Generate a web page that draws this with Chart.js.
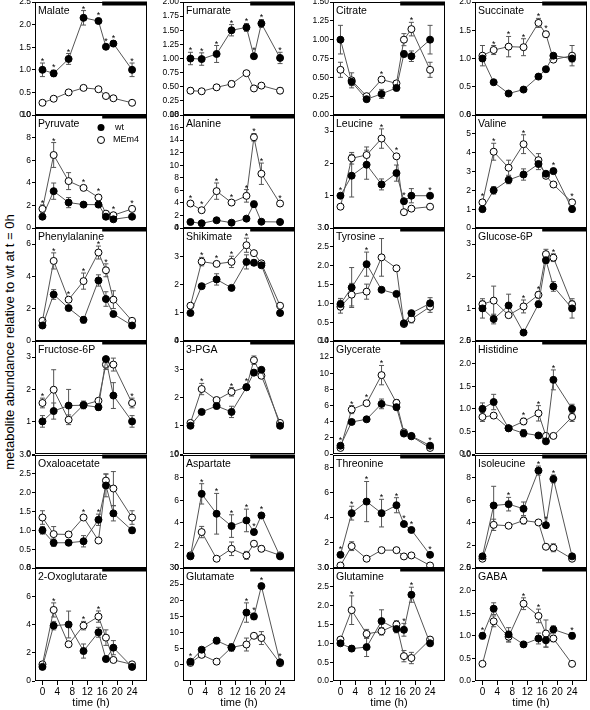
<!DOCTYPE html>
<html>
<head>
<meta charset="utf-8">
<script src="https://cdn.jsdelivr.net/npm/chart.js@4.4.1/dist/chart.umd.min.js"></script>
<style>
  html, body { margin: 0; padding: 0; background: #fff; }
  #wrap { position: relative; width: 590px; height: 710px; overflow: hidden; }
  #wrap canvas { position: absolute; }
  #ylab {
    position: absolute; left: 9px; top: 342px;
    transform: translate(-50%, -50%) rotate(-90deg);
    white-space: nowrap; font: 13px "Liberation Sans", Arial, sans-serif; color: #000;
  }
</style>
</head>
<body>
<div id="wrap"><div id="ylab">metabolite abundance relative to wt at t = 0h</div></div>
<script>
// sampling times (h) and shared x ticks
const hours = [0, 3, 7, 11, 15, 17, 19, 24];
const xTicks = [0, 4, 8, 12, 16, 20, 24];
const darkStart = 16;

// --- Row 1 ---
const malateWt = [1.00, 0.92, 1.24, 2.15, 2.08, 1.51, 1.58, 1.00];
const malateWtErr = [0.15, 0.07, 0.12, 0.16, 0.05, 0.03, 0.06, 0.15];
const malateMe = [0.27, 0.36, 0.50, 0.60, 0.57, 0.42, 0.37, 0.27];
const malateMeErr = [0.03, 0.03, 0.03, 0.03, 0.03, 0.02, 0.02, 0.03];
const malateStars = [0, 3, 7, 11, 15, 17, 19, 24];
const malateTicks = [0, 0.5, 1, 1.5, 2, 2.5];

const fumarateWt = [1.00, 0.99, 1.08, 1.50, 1.55, 1.04, 1.62, 1.01];
const fumarateWtErr = [0.11, 0.11, 0.15, 0.10, 0.07, 0.02, 0.07, 0.10];
const fumarateMe = [0.43, 0.42, 0.49, 0.55, 0.74, 0.47, 0.52, 0.43];
const fumarateMeErr = [0.05, 0.02, 0.04, 0.05, 0.03, 0.02, 0.02, 0.05];
const fumarateStars = [0, 3, 7, 11, 15, 17, 19, 24];
const fumarateTicks = [0, 0.25, 0.5, 0.75, 1, 1.25, 1.5, 1.75, 2];

const citrateWt = [1.00, 0.44, 0.21, 0.28, 0.36, 0.81, 0.78, 1.00];
const citrateWtErr = [0.19, 0.05, 0.02, 0.06, 0.04, 0.04, 0.07, 0.19];
const citrateMe = [0.60, 0.46, 0.25, 0.47, 0.42, 1.00, 1.14, 0.60];
const citrateMeErr = [0.10, 0.10, 0.02, 0.02, 0.03, 0.08, 0.09, 0.10];
const citrateStars = [11, 19];
const citrateTicks = [0, 0.25, 0.5, 0.75, 1, 1.25, 1.5];

const succinateWt = [1.00, 0.58, 0.38, 0.45, 0.68, 0.81, 1.05, 1.00];
const succinateWtErr = [0.05, 0.02, 0.02, 0.03, 0.03, 0.03, 0.03, 0.06];
const succinateMe = [1.05, 1.15, 1.21, 1.20, 1.63, 1.43, 0.98, 1.05];
const succinateMeErr = [0.18, 0.08, 0.18, 0.15, 0.08, 0.05, 0.03, 0.18];
const succinateStars = [3, 7, 11, 15, 17];
const succinateTicks = [0, 0.5, 1, 1.5, 2];

// --- Row 2 ---
const pyruvateWt = [1.00, 3.26, 2.25, 2.07, 2.07, 1.00, 0.77, 1.00];
const pyruvateWtErr = [0.05, 0.72, 0.45, 0.10, 0.20, 0.10, 0.05, 0.05];
const pyruvateMe = [1.69, 6.46, 4.15, 3.55, 2.70, 1.27, 1.13, 1.69];
const pyruvateMeErr = [0.35, 1.10, 0.75, 0.20, 0.20, 0.15, 0.10, 0.20];
const pyruvateStars = [0, 3, 11, 15, 19, 24];
const pyruvateTicks = [0, 2, 4, 6, 8, 10];

const alanineWt = [0.96, 0.75, 1.23, 0.85, 1.49, 3.79, 1.00, 0.96];
const alanineWtErr = [0.10, 0.10, 0.15, 0.10, 0.20, 0.50, 0.10, 0.10];
const alanineMe = [3.90, 2.83, 5.87, 4.05, 5.12, 14.45, 8.64, 3.90];
const alanineMeErr = [0.40, 0.30, 1.30, 0.40, 1.00, 0.60, 1.70, 0.30];
const alanineStars = [0, 3, 7, 11, 15, 17, 19, 24];
const alanineTicks = [0, 2, 4, 6, 8, 10, 12, 14, 16, 18];

const leucineWt = [1.00, 1.62, 1.96, 1.35, 1.70, 0.83, 1.00, 1.00];
const leucineWtErr = [0.05, 0.66, 0.45, 0.17, 0.25, 0.05, 0.22, 0.03];
const leucineMe = [0.66, 2.16, 2.26, 2.77, 2.22, 0.49, 0.60, 0.66];
const leucineMeErr = [0.05, 0.18, 0.25, 0.30, 0.05, 0.03, 0.06, 0.03];
const leucineStars = [0, 11, 15, 17, 24];
const leucineTicks = [0, 1, 2, 3];

const valineWt = [1.00, 2.00, 2.55, 2.84, 3.40, 2.88, 3.02, 1.00];
const valineWtErr = [0.05, 0.20, 0.20, 0.30, 0.30, 0.10, 0.15, 0.05];
const valineMe = [1.36, 4.05, 3.20, 4.45, 3.60, 2.77, 2.31, 1.36];
const valineMeErr = [0.10, 0.45, 0.40, 0.50, 0.35, 0.10, 0.10, 0.10];
const valineStars = [0, 3, 11, 19, 24];
const valineTicks = [0, 1, 2, 3, 4, 5, 6];

// --- Row 3 ---
const pheWt = [0.96, 2.88, 2.04, 1.31, 3.75, 2.60, 1.67, 0.96];
const pheWtErr = [0.05, 0.30, 0.05, 0.20, 0.35, 0.45, 0.10, 0.05];
const pheMe = [1.25, 4.96, 2.56, 3.71, 5.48, 4.38, 2.56, 1.25];
const pheMeErr = [0.15, 0.50, 0.10, 0.50, 0.40, 0.40, 0.55, 0.10];
const pheStars = [3, 7, 11, 15, 17];
const pheTicks = [0, 2, 4, 6];

const shikimateWt = [0.99, 1.94, 2.18, 1.88, 2.80, 2.77, 2.68, 0.99];
const shikimateWtErr = [0.07, 0.08, 0.20, 0.05, 0.25, 0.10, 0.05, 0.07];
const shikimateMe = [1.25, 2.81, 2.73, 2.80, 3.39, 3.11, 2.75, 1.25];
const shikimateMeErr = [0.05, 0.15, 0.05, 0.20, 0.25, 0.08, 0.05, 0.05];
const shikimateStars = [3, 7, 11, 15];
const shikimateTicks = [0, 1, 2, 3, 4];

const tyrosineWt = [0.98, 1.42, 2.04, 1.36, 1.25, 0.47, 0.74, 1.00];
const tyrosineWtErr = [0.15, 0.53, 0.32, 0.03, 0.03, 0.05, 0.05, 0.15];
const tyrosineMe = [0.91, 1.23, 1.31, 2.22, 1.93, 0.45, 0.58, 0.91];
const tyrosineMeErr = [0.17, 0.30, 0.20, 0.50, 0.05, 0.05, 0.10, 0.15];
const tyrosineStars = [7];
const tyrosineTicks = [0, 0.5, 1, 1.5, 2, 2.5, 3];

const g6pWt = [1.01, 0.68, 1.10, 0.26, 1.14, 2.50, 1.69, 1.01];
const g6pWtErr = [0.30, 0.15, 0.35, 0.03, 0.10, 0.10, 0.15, 0.30];
const g6pMe = [1.14, 1.25, 0.80, 1.07, 1.43, 2.69, 2.58, 1.14];
const g6pMeErr = [0.10, 0.45, 0.05, 0.20, 0.10, 0.15, 0.12, 0.10];
const g6pStars = [11, 15, 19];
const g6pTicks = [0, 1, 2, 3];

// --- Row 4 ---
const f6pWt = [1.01, 1.33, 1.50, 1.51, 1.45, 2.94, 1.81, 1.01];
const f6pWtErr = [0.18, 0.25, 0.50, 0.05, 0.10, 0.05, 0.40, 0.18];
const f6pMe = [1.58, 1.99, 1.06, 1.52, 1.65, 2.77, 2.77, 1.58];
const f6pMeErr = [0.15, 0.62, 0.15, 0.12, 0.05, 0.15, 0.20, 0.15];
const f6pStars = [0, 24];
const f6pTicks = [0, 1, 2, 3];

const pgaWt = [1.00, 1.49, 1.70, 1.49, 2.36, 2.88, 2.98, 1.00];
const pgaWtErr = [0.03, 0.03, 0.10, 0.20, 0.05, 0.10, 0.05, 0.03];
const pgaMe = [1.10, 2.30, 1.91, 2.20, 2.37, 3.32, 2.77, 1.10];
const pgaMeErr = [0.05, 0.20, 0.05, 0.15, 0.05, 0.15, 0.05, 0.05];
const pgaStars = [3, 11, 15];
const pgaTicks = [0, 1, 2, 3, 4];

const glycerateWt = [1.03, 3.97, 4.30, 6.21, 5.80, 2.53, 2.24, 1.03];
const glycerateWtErr = [0.10, 0.20, 0.20, 0.60, 0.30, 0.10, 0.10, 0.10];
const glycerateMe = [0.75, 5.50, 6.29, 9.77, 6.34, 2.69, 2.19, 0.75];
const glycerateMeErr = [0.10, 0.50, 0.20, 1.20, 0.40, 0.10, 0.10, 0.10];
const glycerateStars = [0, 3, 7, 11, 24];
const glycerateTicks = [0, 2, 4, 6, 8, 10, 12, 14];

const histidineWt = [1.00, 1.15, 0.57, 0.46, 0.41, 0.28, 1.64, 1.00];
const histidineWtErr = [0.13, 0.17, 0.03, 0.08, 0.03, 0.02, 0.22, 0.10];
const histidineMe = [0.82, 0.85, 0.57, 0.72, 0.90, 0.40, 0.40, 0.82];
const histidineMeErr = [0.10, 0.05, 0.03, 0.07, 0.17, 0.05, 0.03, 0.10];
const histidineStars = [11, 15, 19];
const histidineTicks = [0, 0.5, 1, 1.5, 2, 2.5];

// --- Row 5 ---
const oaaWt = [1.00, 0.67, 0.67, 0.71, 1.28, 2.19, 1.45, 1.00];
const oaaWtErr = [0.10, 0.10, 0.07, 0.15, 0.15, 0.30, 0.20, 0.08];
const oaaMe = [1.34, 0.90, 0.89, 1.34, 0.73, 2.32, 2.11, 1.34];
const oaaMeErr = [0.18, 0.20, 0.06, 0.03, 0.03, 0.18, 0.45, 0.18];
const oaaStars = [11, 15];
const oaaTicks = [0, 0.5, 1, 1.5, 2, 2.5, 3];

const aspartateWt = [1.03, 6.56, 4.80, 3.71, 4.21, 3.18, 4.65, 1.03];
const aspartateWtErr = [0.10, 0.90, 1.80, 1.00, 1.00, 0.20, 0.20, 0.10];
const aspartateMe = [1.12, 3.18, 0.82, 1.70, 1.12, 2.15, 1.70, 1.12];
const aspartateMeErr = [0.20, 0.50, 0.10, 0.60, 0.35, 0.10, 0.25, 0.20];
const aspartateStars = [3, 7, 11, 15, 17, 19];
const aspartateTicks = [0, 2, 4, 6, 8, 10];

const threonineWt = [1.05, 4.37, 5.29, 4.37, 5.00, 3.50, 3.03, 1.05];
const threonineWtErr = [0.05, 0.55, 1.60, 1.10, 0.60, 0.10, 0.10, 0.05];
const threonineMe = [0.20, 1.74, 0.74, 1.42, 1.42, 0.92, 1.00, 0.20];
const threonineMeErr = [0.05, 0.35, 0.05, 0.10, 0.15, 0.05, 0.05, 0.05];
const threonineStars = [0, 3, 7, 11, 15, 17, 19, 24];
const threonineTicks = [0, 2, 4, 6, 8];

const isoleucineWt = [1.03, 5.53, 5.65, 5.24, 8.62, 3.79, 7.88, 1.03];
const isoleucineWtErr = [0.10, 1.70, 0.60, 0.60, 0.40, 0.10, 0.35, 0.10];
const isoleucineMe = [0.82, 3.82, 3.74, 4.20, 4.03, 1.88, 1.79, 0.82];
const isoleucineMeErr = [0.05, 0.50, 0.10, 0.30, 0.10, 0.10, 0.35, 0.05];
const isoleucineStars = [7, 15, 17, 19];
const isoleucineTicks = [0, 2, 4, 6, 8, 10];

// --- Row 6 ---
const oxoWt = [1.00, 3.92, 4.00, 2.12, 3.45, 1.56, 2.36, 1.00];
const oxoWtErr = [0.05, 0.30, 0.95, 0.50, 0.35, 0.20, 0.50, 0.05];
const oxoMe = [1.18, 5.03, 2.60, 3.92, 4.56, 3.07, 1.49, 1.18];
const oxoMeErr = [0.05, 0.50, 0.10, 0.30, 0.40, 0.55, 0.10, 0.05];
const oxoStars = [3, 11, 15];
const oxoTicks = [0, 2, 4, 6, 8];

const glutamateWt = [1.0, 4.7, 7.5, 5.4, 16.2, 15.0, 24.4, 0.8];
const glutamateWtErr = [0.3, 0.5, 1.0, 0.5, 3.0, 1.0, 0.8, 0.3];
const glutamateMe = [0.6, 3.1, 1.0, 5.4, 6.3, 9.0, 8.3, 0.5];
const glutamateMeErr = [0.3, 0.4, 0.2, 1.2, 2.0, 0.3, 2.0, 0.3];
const glutamateStars = [0, 15, 17, 19, 24];
const glutamateTicks = [0, 5, 10, 15, 20, 25, 30];

const glutamineWt = [1.00, 0.86, 0.90, 1.59, 1.38, 1.36, 2.29, 1.00];
const glutamineWtErr = [0.05, 0.07, 0.25, 0.30, 0.10, 0.17, 0.20, 0.03];
const glutamineMe = [1.10, 1.88, 1.25, 1.32, 1.50, 0.66, 0.61, 1.10];
const glutamineMeErr = [0.05, 0.38, 0.12, 0.10, 0.10, 0.15, 0.15, 0.05];
const glutamineStars = [3, 17, 19];
const glutamineTicks = [0, 0.5, 1, 1.5, 2, 2.5, 3];

const gabaWt = [1.00, 1.60, 1.03, 0.81, 0.94, 0.90, 1.14, 1.00];
const gabaWtErr = [0.07, 0.13, 0.15, 0.03, 0.12, 0.15, 0.08, 0.07];
const gabaMe = [0.38, 1.32, 0.98, 1.71, 1.44, 1.05, 0.94, 0.38];
const gabaMeErr = [0.02, 0.12, 0.12, 0.13, 0.15, 0.30, 0.07, 0.02];
const gabaStars = [0, 11, 15, 24];
const gabaTicks = [0, 0.5, 1, 1.5, 2, 2.5];

// panel table, row-major (4 columns x 6 rows)
const panels = [
  { title: 'Malate', wt: malateWt, wtErr: malateWtErr, me: malateMe, meErr: malateMeErr, stars: malateStars, ticks: malateTicks, min: 0, max: 2.5, dec: 1 },
  { title: 'Fumarate', wt: fumarateWt, wtErr: fumarateWtErr, me: fumarateMe, meErr: fumarateMeErr, stars: fumarateStars, ticks: fumarateTicks, min: 0, max: 2, dec: 2 },
  { title: 'Citrate', wt: citrateWt, wtErr: citrateWtErr, me: citrateMe, meErr: citrateMeErr, stars: citrateStars, ticks: citrateTicks, min: 0, max: 1.5, dec: 2 },
  { title: 'Succinate', wt: succinateWt, wtErr: succinateWtErr, me: succinateMe, meErr: succinateMeErr, stars: succinateStars, ticks: succinateTicks, min: 0, max: 2, dec: 1 },
  { title: 'Pyruvate', wt: pyruvateWt, wtErr: pyruvateWtErr, me: pyruvateMe, meErr: pyruvateMeErr, stars: pyruvateStars, ticks: pyruvateTicks, min: 0, max: 10, dec: 0, legend: true },
  { title: 'Alanine', wt: alanineWt, wtErr: alanineWtErr, me: alanineMe, meErr: alanineMeErr, stars: alanineStars, ticks: alanineTicks, min: 0, max: 18, dec: 0 },
  { title: 'Leucine', wt: leucineWt, wtErr: leucineWtErr, me: leucineMe, meErr: leucineMeErr, stars: leucineStars, ticks: leucineTicks, min: 0, max: 3.5, dec: 0 },
  { title: 'Valine', wt: valineWt, wtErr: valineWtErr, me: valineMe, meErr: valineMeErr, stars: valineStars, ticks: valineTicks, min: 0, max: 6, dec: 0 },
  { title: 'Phenylalanine', wt: pheWt, wtErr: pheWtErr, me: pheMe, meErr: pheMeErr, stars: pheStars, ticks: pheTicks, min: 0, max: 7, dec: 0 },
  { title: 'Shikimate', wt: shikimateWt, wtErr: shikimateWtErr, me: shikimateMe, meErr: shikimateMeErr, stars: shikimateStars, ticks: shikimateTicks, min: 0, max: 4, dec: 0 },
  { title: 'Tyrosine', wt: tyrosineWt, wtErr: tyrosineWtErr, me: tyrosineMe, meErr: tyrosineMeErr, stars: tyrosineStars, ticks: tyrosineTicks, min: 0, max: 3, dec: 1 },
  { title: 'Glucose-6P', wt: g6pWt, wtErr: g6pWtErr, me: g6pMe, meErr: g6pMeErr, stars: g6pStars, ticks: g6pTicks, min: 0, max: 3.5, dec: 0 },
  { title: 'Fructose-6P', wt: f6pWt, wtErr: f6pWtErr, me: f6pMe, meErr: f6pMeErr, stars: f6pStars, ticks: f6pTicks, min: 0, max: 3.5, dec: 0 },
  { title: '3-PGA', wt: pgaWt, wtErr: pgaWtErr, me: pgaMe, meErr: pgaMeErr, stars: pgaStars, ticks: pgaTicks, min: 0, max: 4, dec: 0 },
  { title: 'Glycerate', wt: glycerateWt, wtErr: glycerateWtErr, me: glycerateMe, meErr: glycerateMeErr, stars: glycerateStars, ticks: glycerateTicks, min: 0, max: 14, dec: 0 },
  { title: 'Histidine', wt: histidineWt, wtErr: histidineWtErr, me: histidineMe, meErr: histidineMeErr, stars: histidineStars, ticks: histidineTicks, min: 0, max: 2.5, dec: 1 },
  { title: 'Oxaloacetate', wt: oaaWt, wtErr: oaaWtErr, me: oaaMe, meErr: oaaMeErr, stars: oaaStars, ticks: oaaTicks, min: 0, max: 3, dec: 1 },
  { title: 'Aspartate', wt: aspartateWt, wtErr: aspartateWtErr, me: aspartateMe, meErr: aspartateMeErr, stars: aspartateStars, ticks: aspartateTicks, min: 0, max: 10, dec: 0 },
  { title: 'Threonine', wt: threonineWt, wtErr: threonineWtErr, me: threonineMe, meErr: threonineMeErr, stars: threonineStars, ticks: threonineTicks, min: 0, max: 9, dec: 0 },
  { title: 'Isoleucine', wt: isoleucineWt, wtErr: isoleucineWtErr, me: isoleucineMe, meErr: isoleucineMeErr, stars: isoleucineStars, ticks: isoleucineTicks, min: 0, max: 10, dec: 0 },
  { title: '2-Oxoglutarate', wt: oxoWt, wtErr: oxoWtErr, me: oxoMe, meErr: oxoMeErr, stars: oxoStars, ticks: oxoTicks, min: 0, max: 8, dec: 0 },
  { title: 'Glutamate', wt: glutamateWt, wtErr: glutamateWtErr, me: glutamateMe, meErr: glutamateMeErr, stars: glutamateStars, ticks: glutamateTicks, min: -5, max: 30, dec: 0 },
  { title: 'Glutamine', wt: glutamineWt, wtErr: glutamineWtErr, me: glutamineMe, meErr: glutamineMeErr, stars: glutamineStars, ticks: glutamineTicks, min: 0, max: 3, dec: 1 },
  { title: 'GABA', wt: gabaWt, wtErr: gabaWtErr, me: gabaMe, meErr: gabaMeErr, stars: gabaStars, ticks: gabaTicks, min: 0, max: 2.5, dec: 1 },
];

// --- Layout (page pixels of each plot box) ---
const colLefts = [35, 183, 333, 475];
const rowTops = [2, 115, 228, 341, 455, 568];
const BOX_W = 113, BOX_H = 113;
const AXIS_W = 35;      // room for y tick labels
const X_AXIS_H = 29;    // bottom row: x ticks + "time (h)"
const FONT = '"Liberation Sans", Arial, Helvetica, sans-serif';

Chart.defaults.font.family = FONT;
Chart.defaults.color = '#000';

// Error bars, significance stars, frame, dark-period bar, title, legend
const deco = {
  id: 'deco',
  beforeDatasetsDraw(chart, args, o) {
    const { ctx, scales: { x, y } } = chart;
    ctx.save();
    ctx.strokeStyle = '#555';
    ctx.lineWidth = 1;
    for (const [vals, errs] of [[o.wt, o.wtErr], [o.me, o.meErr]]) {
      vals.forEach((v, i) => {
        const px = x.getPixelForValue(hours[i]);
        const hi = y.getPixelForValue(v + errs[i]);
        const lo = y.getPixelForValue(v - errs[i]);
        ctx.beginPath();
        ctx.moveTo(px, hi); ctx.lineTo(px, lo);
        ctx.moveTo(px - 2.5, hi); ctx.lineTo(px + 2.5, hi);
        ctx.moveTo(px - 2.5, lo); ctx.lineTo(px + 2.5, lo);
        ctx.stroke();
      });
    }
    ctx.restore();
  },
  afterDatasetsDraw(chart, args, o) {
    const { ctx, scales: { x, y } } = chart;
    ctx.save();
    ctx.fillStyle = '#000';
    ctx.font = '9px ' + FONT;
    ctx.textAlign = 'center';
    ctx.textBaseline = 'alphabetic';
    o.stars.forEach(h => {
      const i = hours.indexOf(h);
      const top = Math.max(o.wt[i] + o.wtErr[i], o.me[i] + o.meErr[i]);
      const ptTop = Math.min(y.getPixelForValue(o.wt[i]), y.getPixelForValue(o.me[i])) - 4;
      const py = Math.min(y.getPixelForValue(top), ptTop);
      ctx.fillText('*', x.getPixelForValue(h), py + 1);
    });
    ctx.restore();
  },
  afterDraw(chart, args, o) {
    const { ctx, chartArea: a, scales: { x } } = chart;
    ctx.save();
    ctx.strokeStyle = '#000';
    ctx.lineWidth = 1;
    ctx.strokeRect(a.left + 0.5, a.top + 0.5, a.width - 1, a.height - 1);

    // dark period bar
    const xd = x.getPixelForValue(darkStart);
    ctx.fillStyle = '#000';
    ctx.fillRect(xd, a.top - 0.5, a.right - xd, 4);

    ctx.font = '10.5px ' + FONT;
    ctx.textAlign = 'left';
    ctx.textBaseline = 'alphabetic';
    ctx.fillText(o.title, a.left + 3, a.top + 12);

    if (o.legend) {
      const lx = a.left + 66;
      ctx.font = '9px ' + FONT;
      ctx.textBaseline = 'middle';
      ctx.beginPath();
      ctx.arc(lx, a.top + 12.5, 3.5, 0, Math.PI * 2);
      ctx.fill();
      ctx.fillText('wt', lx + 14, a.top + 12.5);
      ctx.beginPath();
      ctx.arc(lx, a.top + 25, 3.5, 0, Math.PI * 2);
      ctx.fillStyle = '#fff';
      ctx.fill();
      ctx.stroke();
      ctx.fillStyle = '#000';
      ctx.fillText('MEm4', lx + 12, a.top + 25);
    }
    ctx.restore();
  }
};

const wrap = document.getElementById('wrap');

function makePanel(p, idx) {
  const col = idx % 4;
  const row = Math.floor(idx / 4);
  const lastRow = row === rowTops.length - 1;
  const cw = AXIS_W + BOX_W + 4;
  const ch = 8 + BOX_H + (lastRow ? X_AXIS_H : 8);

  const canvas = document.createElement('canvas');
  canvas.width = cw;
  canvas.height = ch;
  canvas.style.left = (colLefts[col] - AXIS_W) + 'px';
  canvas.style.top = (rowTops[row] - 8) + 'px';
  canvas.style.width = cw + 'px';
  canvas.style.height = ch + 'px';
  wrap.appendChild(canvas);

  const series = (vals) => hours.map((h, i) => ({ x: h, y: vals[i] }));

  new Chart(canvas, {
    type: 'line',
    data: {
      datasets: [
        {
          label: 'wt',
          data: series(p.wt),
          borderColor: '#555',
          borderWidth: 1,
          pointRadius: 3.5,
          pointBackgroundColor: '#000',
          pointBorderColor: '#000',
          pointBorderWidth: 1,
        },
        {
          label: 'MEm4',
          data: series(p.me),
          borderColor: '#555',
          borderWidth: 1,
          pointRadius: 3.5,
          pointBackgroundColor: '#fff',
          pointBorderColor: '#000',
          pointBorderWidth: 1,
        },
      ],
    },
    options: {
      responsive: false,
      animation: false,
      devicePixelRatio: 1,
      events: [],
      layout: { padding: { left: 0, top: 8, right: 4, bottom: lastRow ? 0 : 8 } },
      plugins: {
        legend: { display: false },
        tooltip: { enabled: false },
        deco: p,
      },
      scales: {
        x: {
          type: 'linear',
          min: -2,
          max: 28,
          display: lastRow,
          border: { display: false },
          grid: { drawOnChartArea: false, drawTicks: true, tickLength: 4, color: '#000' },
          ticks: { font: { size: 10 }, padding: 1, autoSkip: false, maxRotation: 0 },
          title: { display: true, text: 'time (h)', font: { size: 11 }, padding: 0 },
          afterBuildTicks: (s) => { s.ticks = xTicks.map(v => ({ value: v })); },
          afterFit: (s) => {
            s.height = lastRow ? X_AXIS_H : 0;
            s.paddingLeft = 0;
            s.paddingRight = 0;
          },
        },
        y: {
          type: 'linear',
          min: p.min,
          max: p.max,
          border: { display: false },
          grid: { drawOnChartArea: false, drawTicks: true, tickLength: 3, color: '#000' },
          ticks: {
            font: { size: 8.5 },
            padding: 1,
            autoSkip: false,
            callback: (v) => v.toFixed(p.dec),
          },
          afterBuildTicks: (s) => { s.ticks = p.ticks.map(v => ({ value: v })); },
          afterFit: (s) => { s.width = AXIS_W; s.paddingTop = 0; s.paddingBottom = 0; },
        },
      },
    },
    plugins: [deco],
  });
}

panels.forEach(makePanel);
</script>
</body>
</html>
